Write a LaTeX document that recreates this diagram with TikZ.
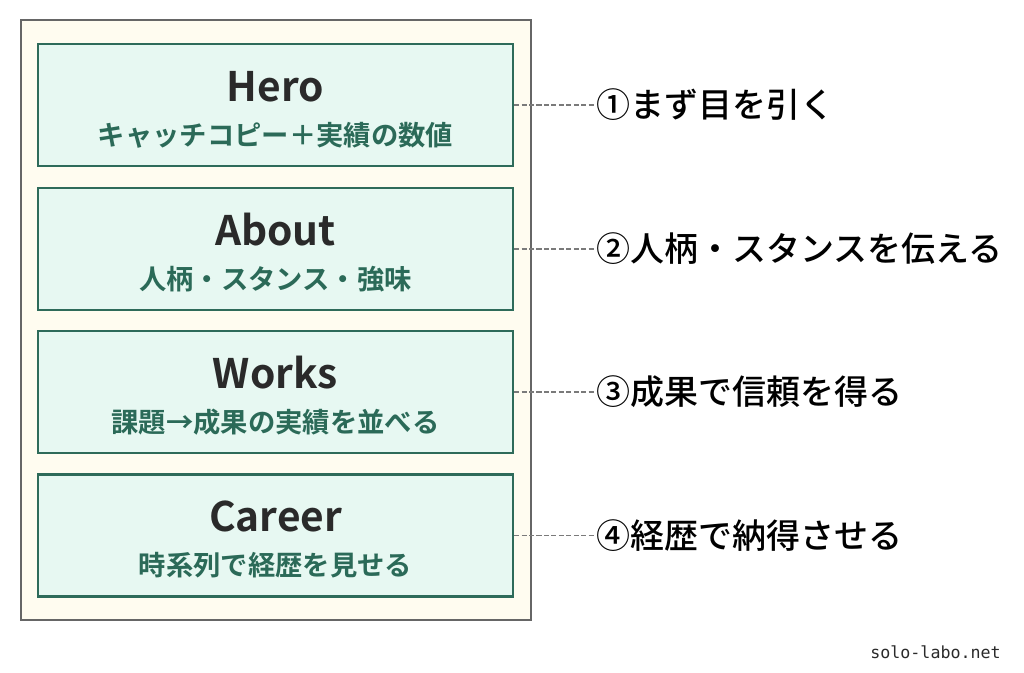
\documentclass[tikz,border=0pt]{standalone}
\usepackage{fontspec}
\setmainfont{Noto Sans CJK JP}[BoldFont={Noto Sans CJK JP Bold}]
\newfontfamily\jpmed{Noto Sans CJK JP Medium}
\newfontfamily\wmfont{DejaVu Sans Mono}
\begin{document}
\begin{tikzpicture}[x=0.75pt,y=-0.75pt,
  frame/.style={draw=black!60,fill=cream,line width=0.9pt},
  sect/.style={draw=boxline,fill=boxfill,line width=1.6pt,minimum width=475*0.75pt,minimum height=122*0.75pt,inner sep=0pt},
  ttl/.style={font=\fontsize{30.5}{32}\selectfont\bfseries,text=ink},
  sub/.style={font=\fontsize{20.5}{22}\selectfont\bfseries,text=subgreen},
  lbl/.style={font=\fontsize{25.5}{28}\selectfont\jpmed,text=black,anchor=west,inner sep=0pt},
  conn/.style={draw=dashgray,line width=1.4pt,dash pattern=on 3.8pt off 1.8pt}]
\definecolor{cream}{HTML}{FFFCF0}
\definecolor{boxfill}{HTML}{E7F8F2}
\definecolor{boxline}{HTML}{2E6B5A}
\definecolor{subgreen}{HTML}{2B6A58}
\definecolor{ink}{HTML}{2A2A2A}
\definecolor{dashgray}{HTML}{7A7A7A}
\useasboundingbox (0,0) rectangle (1024,672);
\fill[white] (0,0) rectangle (1024,672);
\draw[frame] (21,20) rectangle (531,620);
\node[sect] (b1) at (275.5,105) {};
\node[sect] (b2) at (275.5,249) {};
\node[sect] (b3) at (275.5,392) {};
\node[sect] (b4) at (275.5,535.5) {};
\node[ttl] (t1) at (275.5,87) {Hero};
\node[sub] (s1) at (275.5,135) {キャッチコピー＋実績の数値};
\node[ttl] (t2) at (275.5,230) {About};
\node[sub] (s2) at (275.5,279) {人柄・スタンス・強味};
\node[ttl] (t3) at (275.5,373) {Works};
\node[sub] (s3) at (275.5,422) {課題→成果の実績を並べる};
\node[ttl] (t4) at (275.5,516) {Career};
\node[sub] (s4) at (275.5,565) {時系列で経歴を見せる};
\node[lbl] (l1) at (596,105) {①まず目を引く};
\node[lbl] (l2) at (596,249) {②人柄・スタンスを伝える};
\node[lbl] (l3) at (596,392) {③成果で信頼を得る};
\node[lbl] (l4) at (596,535.5) {④経歴で納得させる};
\draw[conn] (b1.east) -- (l1.west);
\draw[conn] (b2.east) -- (l2.west);
\draw[conn] (b3.east) -- (l3.west);
\draw[conn] (b4.east) -- (l4.west);
\node[font=\fontsize{12.5}{14}\selectfont\wmfont,text=ink,anchor=east,inner sep=0pt] (wm) at (1001,652) {solo-labo.net};
\end{tikzpicture}
\end{document}
